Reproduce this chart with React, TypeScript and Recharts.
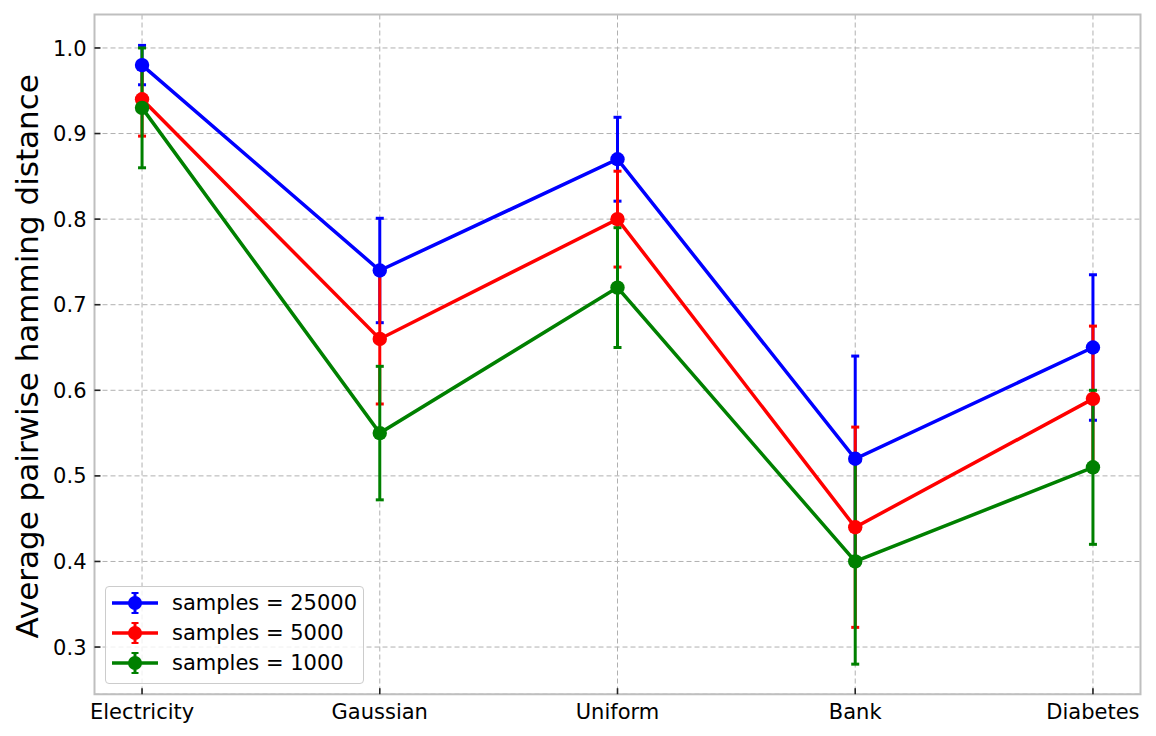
import React from "react";
import { LineChart, Line, XAxis, YAxis, CartesianGrid, ErrorBar, Legend, ReferenceArea } from "recharts";

const datasets = ["Electricity", "Gaussian", "Uniform", "Bank", "Diabetes"];
const yTicks = [0.3, 0.4, 0.5, 0.6, 0.7, 0.8, 0.9, 1.0];

const samples25000 = [0.98, 0.74, 0.87, 0.52, 0.65];
const samples25000Err = [0.023, 0.061, 0.049, 0.12, 0.085];
const samples5000 = [0.94, 0.66, 0.8, 0.44, 0.59];
const samples5000Err = [0.043, 0.076, 0.056, 0.117, 0.085];
const samples1000 = [0.93, 0.55, 0.72, 0.4, 0.51];
const samples1000Err = [0.07, 0.078, 0.07, 0.12, 0.09];

const series = [
  { key: "s25000", label: "samples = 25000", color: "#0000ff", values: samples25000, errors: samples25000Err },
  { key: "s5000", label: "samples = 5000", color: "#ff0000", values: samples5000, errors: samples5000Err },
  { key: "s1000", label: "samples = 1000", color: "#008000", values: samples1000, errors: samples1000Err },
];

const data = datasets.map((name, i) => {
  const row: Record<string, number | string> = { idx: i, name };
  series.forEach((s) => {
    row[s.key] = s.values[i];
    row[s.key + "Err"] = s.errors[i];
  });
  return row;
});

const X_DOMAIN: [number, number] = [-0.2, 4.2];
const Y_DOMAIN: [number, number] = [0.2449, 1.0391];
const FONT = "'DejaVu Sans', sans-serif";

const YTick = ({ x, y, payload }: any) => (
  <g>
    <line x1={x} x2={x + 6} y1={y} y2={y} stroke="#222" strokeWidth={1.6} />
    <text x={x - 8} y={y} dy={7.6} textAnchor="end" fontSize={21} fontFamily={FONT} fill="#000">
      {Number(payload.value).toFixed(1)}
    </text>
  </g>
);

const XTick = ({ x, y, payload }: any) => (
  <g>
    <line x1={x} x2={x} y1={y - 6} y2={y} stroke="#222" strokeWidth={1.6} />
    <text x={x} y={y + 25} textAnchor="middle" fontSize={21} fontFamily={FONT} fill="#000">
      {datasets[payload.value]}
    </text>
  </g>
);

const YLabel = ({ viewBox }: any) => (
  <text
    transform={`translate(38, ${viewBox.y + viewBox.height / 2 + 2}) rotate(-90)`}
    textAnchor="middle"
    fontSize={31}
    fontFamily={FONT}
    fill="#000"
  >
    Average pairwise hamming distance
  </text>
);

const LegendBox = () => (
  <div
    style={{
      width: 257,
      height: 95,
      border: "1px solid #cccccc",
      borderRadius: 4,
      background: "rgba(255,255,255,0.8)",
      paddingTop: 1,
      boxSizing: "content-box",
      fontFamily: FONT,
      fontSize: 21,
      color: "#000",
    }}
  >
    {series.map((s) => (
      <div key={s.key} style={{ display: "flex", alignItems: "center", height: 30 }}>
        <svg width={66} height={30} style={{ display: "block" }}>
          <line x1={6} x2={52} y1={15} y2={15} stroke={s.color} strokeWidth={3.5} />
          <line x1={29} x2={29} y1={5} y2={25} stroke={s.color} strokeWidth={3} />
          <line x1={25.5} x2={32.5} y1={5} y2={5} stroke={s.color} strokeWidth={2} />
          <line x1={25.5} x2={32.5} y1={25} y2={25} stroke={s.color} strokeWidth={2} />
          <circle cx={29} cy={15} r={7} fill={s.color} />
        </svg>
        <span style={{ lineHeight: "30px", whiteSpace: "nowrap" }}>{s.label}</span>
      </div>
    ))}
  </div>
);

export default function App() {
  return (
    <div style={{ position: "absolute", left: 0, top: 0, width: 1156, height: 736, background: "#fff" }}>
      <LineChart width={1156} height={736} data={data} margin={{ top: 14.5, right: 15.5, bottom: 0, left: 0 }}>
        <CartesianGrid stroke="#b0b0b0" strokeDasharray="5 3" strokeWidth={1} />
        <XAxis
          type="number"
          dataKey="idx"
          domain={X_DOMAIN}
          ticks={[0, 1, 2, 3, 4]}
          allowDataOverflow
          height={41.8}
          axisLine={false}
          tickLine={false}
          tickSize={0}
          tickMargin={0}
          tick={<XTick />}
          interval={0}
        />
        <YAxis
          type="number"
          domain={Y_DOMAIN}
          ticks={yTicks}
          allowDataOverflow
          width={94.5}
          axisLine={false}
          tickLine={false}
          tickSize={0}
          tickMargin={0}
          tick={<YTick />}
          interval={0}
          label={YLabel}
        />
        <ReferenceArea
          x1={X_DOMAIN[0]}
          x2={X_DOMAIN[1]}
          y1={Y_DOMAIN[0]}
          y2={Y_DOMAIN[1]}
          fill="none"
          stroke="#bfbfbf"
          strokeWidth={2}
          ifOverflow="visible"
        />
        {series.map((s) => (
          <Line
            key={s.key + "-err"}
            type="linear"
            dataKey={s.key}
            stroke="none"
            dot={false}
            activeDot={false}
            legendType="none"
            isAnimationActive={false}
          >
            <ErrorBar dataKey={s.key + "Err"} direction="y" width={4} strokeWidth={3} stroke={s.color} isAnimationActive={false} />
          </Line>
        ))}
        {series.map((s) => (
          <Line
            key={s.key}
            type="linear"
            dataKey={s.key}
            name={s.label}
            stroke={s.color}
            strokeWidth={3.5}
            dot={{ r: 7.2, fill: s.color, stroke: s.color, strokeWidth: 0 }}
            activeDot={false}
            isAnimationActive={false}
          />
        ))}
        <Legend
          layout="vertical"
          align="center"
          verticalAlign="middle"
          content={<LegendBox />}
          wrapperStyle={{ left: 105, top: 586, width: "auto", height: "auto", bottom: "auto", right: "auto" }}
        />
      </LineChart>
    </div>
  );
}
